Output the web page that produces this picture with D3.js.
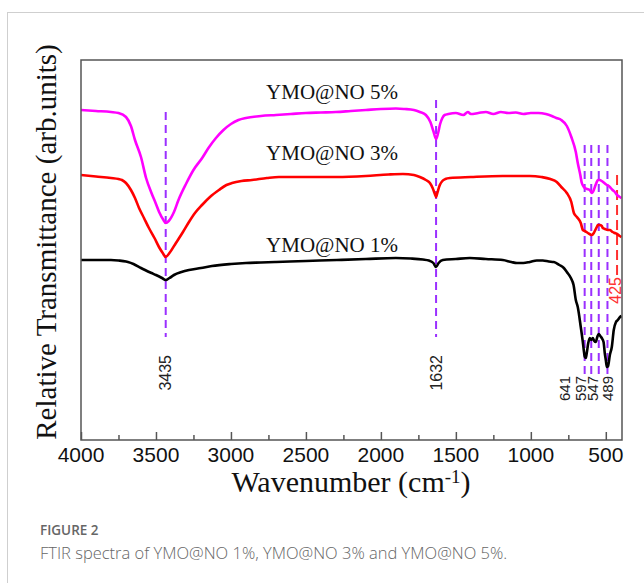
<!DOCTYPE html>
<html>
<head>
<meta charset="utf-8">
<style>
    body { margin: 0; background: #fff; }
    svg { display: block; }
    .frame { fill: none; stroke: #555; stroke-width: 1.5px; }
    .tick-label { font-family: "Liberation Sans", Arial, sans-serif; font-size: 21px; fill: #111; }
    .serif { font-family: "Liberation Serif", "Times New Roman", serif; fill: #111; }
    .peak { font-family: "Liberation Sans", Arial, sans-serif; fill: #222; }
    .caption { font-family: "Open Sans", "Noto Sans", sans-serif; fill: #666; }
</style>
</head>
<body>
<svg id="chart" width="644" height="583"></svg>

<script src="https://d3js.org/d3.v7.min.js"></script>
<script>
// wavenumber (cm-1) and relative transmittance (arb. units)
const ymo5 = [
    [4000, 330], [3900, 329], [3800, 328], [3750, 327], [3700, 323], [3667, 314], [3640, 300],
    [3600, 283], [3566, 262], [3530, 247], [3500, 236], [3479, 228], [3450, 220], [3435, 217],
    [3415, 219], [3380, 228], [3350, 240], [3300, 256], [3250, 270], [3192, 282], [3150, 292],
    [3100, 302], [3050, 310], [3000, 316], [2950, 320], [2900, 322], [2800, 324], [2700, 325],
    [2600, 326], [2500, 327], [2400, 327.5], [2300, 328], [2200, 329], [2100, 330], [2000, 331],
    [1900, 331.5], [1842, 331], [1780, 330], [1740, 328], [1700, 325], [1670, 318], [1650, 309],
    [1632, 301], [1620, 306], [1605, 316], [1590, 322], [1575, 325], [1550, 326], [1500, 327],
    [1450, 325], [1420, 328], [1400, 326], [1350, 327], [1300, 328], [1250, 326], [1200, 328],
    [1150, 327], [1100, 327.5], [1050, 326], [1000, 327], [950, 327], [900, 326], [860, 324],
    [830, 322], [797, 320], [760, 314], [730, 303], [700, 288], [687, 277], [670, 265],
    [660, 257], [650, 254], [640, 252], [625, 251], [607, 250], [593, 247], [580, 250],
    [573, 253], [563, 257], [553, 260], [540, 260], [527, 259], [510, 257], [493, 255],
    [480, 254], [473, 253], [455, 250], [440, 248], [425, 245], [407, 243], [395, 242]
];
const ymo3 = [
    [4000, 265], [3900, 263.5], [3800, 262], [3750, 261], [3727, 260], [3700, 257], [3667, 250],
    [3640, 242], [3613, 232], [3580, 222], [3547, 212], [3510, 202], [3480, 193], [3455, 187],
    [3435, 183], [3410, 187], [3367, 197], [3320, 208], [3280, 218], [3240, 227], [3193, 235],
    [3140, 243], [3080, 250], [3030, 255], [2993, 257], [2930, 259], [2860, 260], [2760, 262],
    [2680, 263], [2500, 263], [2293, 263], [2100, 264], [1950, 265.5], [1853, 266], [1780, 265],
    [1740, 263], [1700, 260], [1673, 257], [1655, 252], [1640, 246], [1632, 243], [1622, 248],
    [1607, 255], [1590, 259], [1570, 261], [1540, 262], [1400, 263], [1187, 264], [1007, 264],
    [930, 263], [870, 261], [827, 258], [797, 253], [760, 247], [730, 238], [713, 227],
    [693, 223], [667, 217], [653, 210], [640, 209], [620, 207], [593, 205], [580, 207],
    [570, 210], [560, 213], [553, 215], [540, 215], [527, 214], [520, 212], [505, 211],
    [487, 210], [473, 210], [455, 208], [440, 207], [425, 206], [407, 204], [395, 203]
];
const ymo1 = [
    [4000, 180], [3900, 180], [3800, 180], [3750, 179.5], [3700, 178.5], [3687, 178], [3650, 176],
    [3600, 172], [3573, 170], [3530, 167], [3500, 165], [3460, 162], [3435, 160], [3410, 162],
    [3380, 165], [3330, 168], [3280, 170], [3200, 172], [3127, 174], [3000, 176], [2900, 177],
    [2800, 177.5], [2700, 178], [2500, 179], [2293, 180], [2100, 181], [1900, 182], [1800, 181.5],
    [1720, 180.5], [1680, 179.5], [1650, 177], [1632, 173], [1615, 177], [1587, 180], [1500, 181],
    [1407, 182], [1300, 181], [1187, 180], [1130, 178], [1093, 177], [1050, 177], [1007, 178],
    [960, 179.5], [920, 179.5], [880, 178.5], [847, 178], [810, 175], [780, 172], [760, 168],
    [733, 162], [715, 155], [700, 140], [687, 133], [667, 113], [655, 100], [647, 90],
    [640, 83], [633, 82], [627, 87], [617, 97], [607, 102], [597, 100], [587, 102],
    [577, 99], [567, 98], [557, 103], [547, 106], [537, 104], [527, 102], [515, 98],
    [507, 87], [500, 80], [493, 73], [485, 74], [473, 85], [460, 93], [447, 110],
    [432, 118], [420, 120], [405, 123], [395, 124]
];

const seriesNames = ["YMO@NO 1%", "YMO@NO 3%", "YMO@NO 5%"];
const seriesColors = ["#000000", "#ff0000", "#ff00ff"];
const seriesData = [ymo1, ymo3, ymo5];
const seriesLabelY = [188, 280, 341];   // label baseline, arb. units

const xTicks = [4000, 3500, 3000, 2500, 2000, 1500, 1000, 500];
const xMinorTicks = [3750, 3250, 2750, 2250, 1750, 1250, 750];

// marked bands: wavenumber, dash top/bottom, label position, label shift
const bandWn = [3435, 1632, 641, 597, 547, 489];
const bandTop = [328, 340, 295, 295, 295, 295];
const bandBottom = [103, 103, 65, 65, 65, 65];
const bandLabelTop = [85, 85, 64, 64, 64, 64];
const bandLabelShift = [0, 0, -20, -11, -6, 0];
const bandLabelSize = [16, 16, 15, 15, 15, 15];

const redBand = 425;

const svg = d3.select("#chart");
const margin = {left: 81, right: 22, top: 60, bottom: 143};
const width = 644, height = 583;

// figure card
svg.append("rect")
    .attr("x", 7.5).attr("y", 12.5)
    .attr("width", 700).attr("height", 700)
    .attr("fill", "#fff")
    .attr("stroke", "#cfcfcf")
    .attr("stroke-width", 1);

let x = d3.scaleLinear()
    .domain([4000, 392])
    .range([margin.left, width - margin.right]);

let y = d3.scaleLinear()
    .domain([0, 380])
    .range([height - margin.bottom, margin.top]);

// ticks pointing inward
let xAxisSettings = d3.axisTop(x)
    .tickValues(xTicks)
    .tickSize(8)
    .tickFormat("");
let xMinorSettings = d3.axisTop(x)
    .tickValues(xMinorTicks)
    .tickSize(5)
    .tickFormat("");

svg.append("g")
    .attr("transform", `translate(0, ${y(0)})`)
    .call(xAxisSettings);
svg.append("g")
    .attr("transform", `translate(0, ${y(0)})`)
    .call(xMinorSettings);
svg.selectAll(".domain").remove();
svg.selectAll(".tick line").attr("stroke", "#555").attr("stroke-width", 1.5);

svg.append("g")
    .selectAll("text")
    .data(xTicks)
    .join("text")
    .attr("class", "tick-label")
    .attr("x", d => x(d))
    .attr("y", y(0) + 22)
    .attr("text-anchor", "middle")
    .text(d => d);

// dashed band markers
svg.append("g")
    .selectAll("line")
    .data(bandWn)
    .join("line")
    .attr("x1", d => x(d)).attr("x2", d => x(d))
    .attr("y1", (d, i) => y(bandTop[i]))
    .attr("y2", (d, i) => y(bandBottom[i]))
    .attr("stroke", "#9b30ff")
    .attr("stroke-width", 2)
    .attr("stroke-dasharray", "8,5");

svg.append("line")
    .attr("x1", x(redBand)).attr("x2", x(redBand))
    .attr("y1", y(265)).attr("y2", y(165))
    .attr("stroke", "#ff3030")
    .attr("stroke-width", 2)
    .attr("stroke-dasharray", "10,5");

let line = d3.line()
    .x(d => x(d[0]))
    .y(d => y(d[1]))
    .curve(d3.curveMonotoneX);

svg.append("g")
    .selectAll("path")
    .data(seriesData)
    .join("path")
    .attr("d", d => line(d))
    .attr("fill", "none")
    .attr("stroke", (d, i) => seriesColors[i])
    .attr("stroke-width", 2.6)
    .attr("stroke-linejoin", "round");

// band labels (rotated)
svg.append("g")
    .selectAll("text")
    .data(bandWn)
    .join("text")
    .attr("class", "peak")
    .attr("transform", (d, i) => `translate(${x(d) + bandLabelShift[i]}, ${y(bandLabelTop[i])}) rotate(-90)`)
    .attr("text-anchor", "end")
    .attr("dy", "0.35em")
    .attr("font-size", (d, i) => bandLabelSize[i] + "px")
    .text(d => d);

svg.append("text")
    .attr("class", "peak")
    .attr("transform", `translate(${x(redBand) - 2}, ${y(163)}) rotate(-90)`)
    .attr("text-anchor", "end")
    .attr("dy", "0.35em")
    .attr("font-size", "16px")
    .style("fill", "#ff3030")
    .text(redBand);

// series labels
svg.append("g")
    .selectAll("text")
    .data(seriesNames)
    .join("text")
    .attr("class", "serif")
    .attr("x", 398)
    .attr("y", (d, i) => y(seriesLabelY[i]))
    .attr("text-anchor", "end")
    .attr("font-size", "21px")
    .text(d => d);

// plot frame
svg.append("rect")
    .attr("class", "frame")
    .attr("x", x.range()[0])
    .attr("y", y.range()[1])
    .attr("width", x.range()[1] - x.range()[0])
    .attr("height", y.range()[0] - y.range()[1]);

// axis titles
svg.append("text")
    .attr("class", "serif")
    .attr("transform", `translate(56, ${(y.range()[0] + y.range()[1]) / 2 - 8}) rotate(-90)`)
    .attr("text-anchor", "middle")
    .attr("font-size", "29px")
    .text("Relative Transmittance (arb.units)");

let xTitle = svg.append("text")
    .attr("class", "serif")
    .attr("x", 351)
    .attr("y", 492)
    .attr("text-anchor", "middle")
    .attr("font-size", "30px");
xTitle.append("tspan").text("Wavenumber (cm");
xTitle.append("tspan").attr("dy", -9).attr("font-size", "19px").text("-1");
xTitle.append("tspan").attr("dy", 9).text(")");

// caption
svg.append("text")
    .attr("class", "caption")
    .attr("x", 40).attr("y", 535)
    .attr("font-size", "13.5px")
    .attr("font-weight", 600)
    .text("FIGURE 2");
svg.append("text")
    .attr("class", "caption")
    .attr("x", 40).attr("y", 559)
    .attr("font-size", "16.5px")
    .attr("font-weight", 300)
    .text("FTIR spectra of YMO@NO 1%, YMO@NO 3% and YMO@NO 5%.");
</script>
</body>
</html>
